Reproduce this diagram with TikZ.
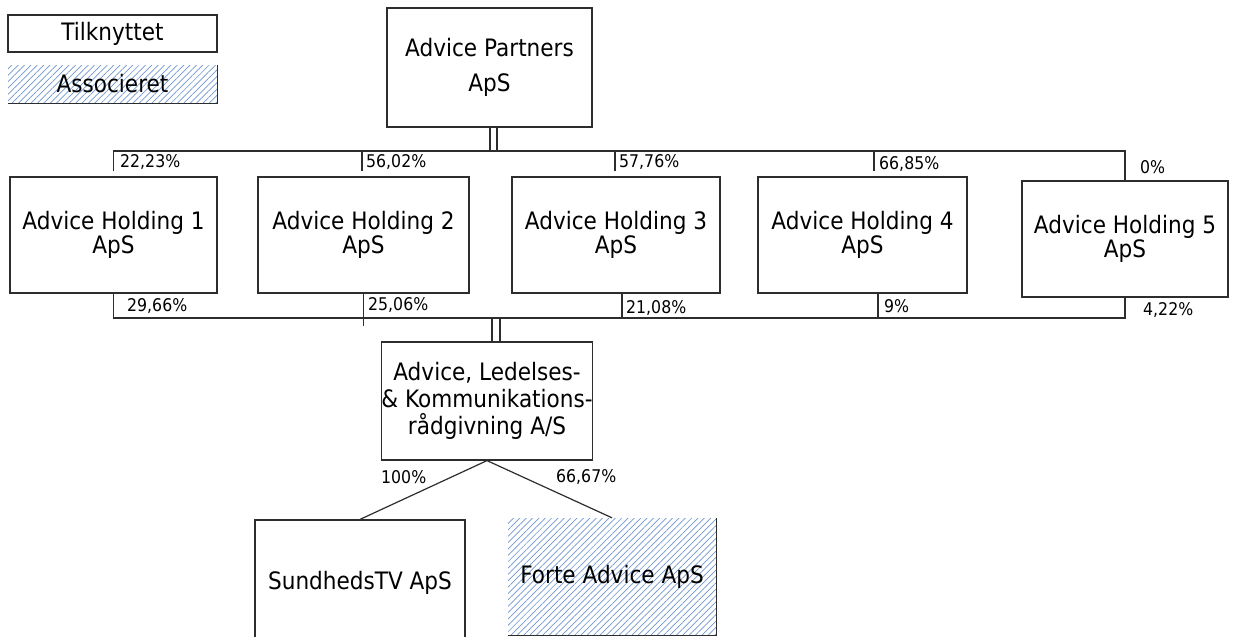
\documentclass[tikz,border=0pt]{standalone}
\usepackage{fontspec}
\setmainfont{DejaVu Sans}[FakeStretch=0.9]
\usetikzlibrary{patterns.meta}
\definecolor{hatchblue}{RGB}{110,150,210}
\definecolor{linegray}{RGB}{45,45,45}

\begin{document}
\begin{tikzpicture}[x=1pt,y=-1pt]
\tikzstyle{every node}+=[inner sep=0pt]
\tikzstyle{box}=[draw=linegray, line width=1.2pt, align=center, font=\fontsize{24}{20}\selectfont]
\tikzstyle{assoc}=[align=center, font=\fontsize{24}{20}\selectfont, pattern={Lines[angle=45,distance=4.5pt,line width=0.7pt]}, pattern color=hatchblue]
\tikzstyle{link}=[draw=linegray, line width=1.2pt]
\tikzstyle{pct}=[anchor=west, font=\fontsize{17.5}{18}\selectfont]
\clip (0,0) rectangle (1235,637);
% legend
\node[box, minimum width=209pt, minimum height=37pt] (tilk) at (112.5,33.5) {Tilknyttet};
\node[assoc, minimum width=209pt, minimum height=38pt] (asso) at (112.5,84) {Associeret};
\draw[link] (asso.north east) -- (asso.south east) -- (asso.south west);
% owners
\node[box, minimum width=205pt, minimum height=119pt] (p) at (489.5,67.5) {Advice Partners\\[15pt]ApS};
\node[box, minimum width=207pt, minimum height=116pt] (h1) at (113.5,235) {Advice Holding 1\\ApS};
\node[box, minimum width=211pt, minimum height=116pt] (h2) at (363.5,235) {Advice Holding 2\\ApS};
\node[box, minimum width=208pt, minimum height=116pt] (h3) at (616,235) {Advice Holding 3\\ApS};
\node[box, minimum width=209pt, minimum height=116pt] (h4) at (862.5,235) {Advice Holding 4\\ApS};
\node[box, minimum width=206pt, minimum height=116pt] (h5) at (1125,239) {Advice Holding 5\\ApS};
\node[box, minimum width=208pt, minimum height=118pt] (m) at (487,401) {Advice, Ledelses-\\[5pt]\& Kommunikations-\\[5pt]rådgivning A/S};
\node[box, minimum width=210pt, minimum height=125pt] (s) at (360,582.5) {SundhedsTV ApS};
\node[assoc, minimum width=208pt, minimum height=117pt] (f) at (612,576.5) {Forte Advice ApS};
\draw[link] (f.north east) -- (f.south east) -- (f.south west);
% bars
\coordinate (tbar) at (0,151);
\coordinate (bbar) at (0,318);
\draw[link] ([xshift=0.5pt]p.south) -- ([xshift=0.5pt]p.south |- tbar);
\draw[link] ([xshift=7.5pt]p.south) -- ([xshift=7.5pt]p.south |- tbar);
\draw[link] ([yshift=5pt]h1.north) -- (h1.north |- tbar) -- (h5.north |- tbar) -- (h5.north);
\foreach \n/\dx in {h2/-1.5, h3/-1, h4/11.5}
  \draw[link] ([xshift=\dx pt, yshift=5pt]\n.north) -- ([xshift=\dx pt]\n.north |- tbar);
\draw[link] (h1.south) -- (h1.south |- bbar) -- (h5.south |- bbar) -- (h5.south);
\draw[link] (h2.south) -- ([yshift=-8pt]h2.south |- bbar);
\foreach \n/\dx in {h3/6, h4/15.5}
  \draw[link] ([xshift=\dx pt]\n.south) -- ([xshift=\dx pt]\n.south |- bbar);
\draw[link] ([xshift=5pt]m.north |- bbar) -- ([xshift=5pt]m.north);
\draw[link] ([xshift=13pt]m.north |- bbar) -- ([xshift=13pt]m.north);
\draw[link] (m.south) -- (s.north);
\draw[link] (m.south) -- (f.north);
% shares
\node[pct] (t1) at (120,162) {22,23\%};
\node[pct] (t2) at (366,162) {56,02\%};
\node[pct] (t3) at (619,162) {57,76\%};
\node[pct] (t4) at (879,164) {66,85\%};
\node[pct] (t5) at (1140,167) {0\%};
\node[pct] (b1) at (127,306) {29,66\%};
\node[pct] (b2) at (368,305) {25,06\%};
\node[pct] (b3) at (626,308) {21,08\%};
\node[pct] (b4) at (884,306) {9\%};
\node[pct] (b5) at (1143,310) {4,22\%};
\node[pct] (ls) at (381,477) {100\%};
\node[pct] (lf) at (556,477) {66,67\%};
\end{tikzpicture}
\end{document}
